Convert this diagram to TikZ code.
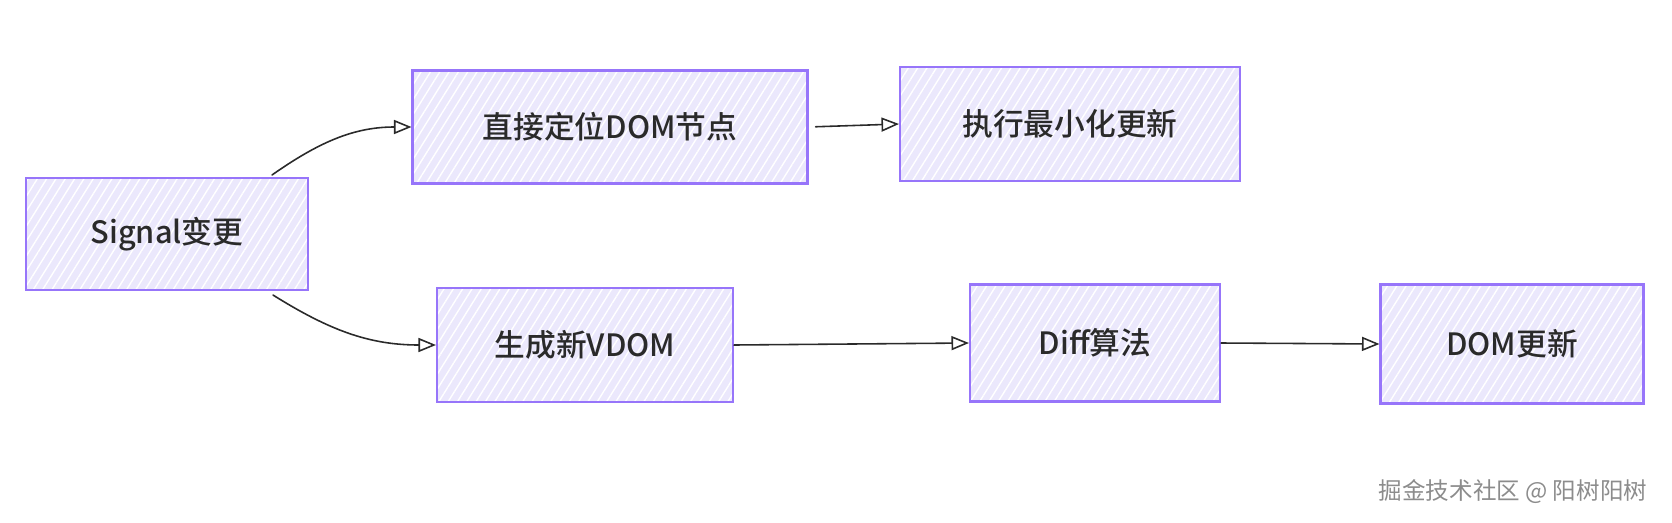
\documentclass[tikz,border=0pt]{standalone}
\usepackage{fontspec}
\newfontfamily\cjk{Noto Sans CJK SC Medium}
\newfontfamily\cjkmark{Noto Sans CJK SC}
\usetikzlibrary{arrows.meta}
\usetikzlibrary{patterns.meta}

\definecolor{boxline}{HTML}{9775FA}
\definecolor{boxfill}{HTML}{EBE8FC}
\definecolor{labeltext}{HTML}{2A2A2A}

\begin{document}
\begin{tikzpicture}[line cap=round, x=0.02cm, y=0.02cm,
    sketchbox/.style={draw=boxline, line width=1.2pt, text=labeltext,
        preaction={fill=boxfill},
        preaction={pattern={Lines[angle=58, distance=4.5pt, line width=0.8pt]}, pattern color=white},
        font=\cjk\fontsize{17.5}{20}\selectfont, inner sep=0pt},
    flow/.style={line width=0.9pt, draw=labeltext, -{Triangle[open, length=3.5mm, width=2.8mm]}}]

    \useasboundingbox (0,0) rectangle (1672,522);

    \node[sketchbox, minimum width=5.64cm, minimum height=2.24cm] (sig) at (167, 288) {Signal变更};
    \node[sketchbox, minimum width=7.9cm, minimum height=2.26cm] (locate) at (610, 395) {直接定位DOM节点};
    \node[sketchbox, minimum width=6.8cm, minimum height=2.28cm] (minupd) at (1070, 398) {执行最小化更新};
    \node[sketchbox, minimum width=5.92cm, minimum height=2.28cm] (vdom) at (585, 177) {生成新VDOM};
    \node[sketchbox, minimum width=5.0cm, minimum height=2.34cm] (diff) at (1095, 179) {Diff算法};
    \node[sketchbox, minimum width=5.26cm, minimum height=2.38cm] (domupd) at (1512, 178) {DOM更新};

    \coordinate (sigtop) at ([xshift=-0.74cm, yshift=0.04cm]sig.north east);
    \coordinate (sigbot) at ([xshift=-0.72cm, yshift=-0.08cm]sig.south east);

    \draw[flow] (sigtop) to[out=35, in=180] (locate.west);
    \draw[flow] (sigbot) to[out=-32, in=180] (vdom.west);
    \draw[flow, shorten <=4pt] (locate.east) -- (minupd.west);
    \draw[flow] (vdom.east) -- (diff.west);
    \draw[flow] (diff.east) -- (domupd.west);

    \node[font=\cjkmark\fontsize{13.4}{15}\selectfont, text=black!45, inner sep=0pt] (mark) at (1513, 30) {掘金技术社区 @ 阳树阳树};

\end{tikzpicture}
\end{document}
